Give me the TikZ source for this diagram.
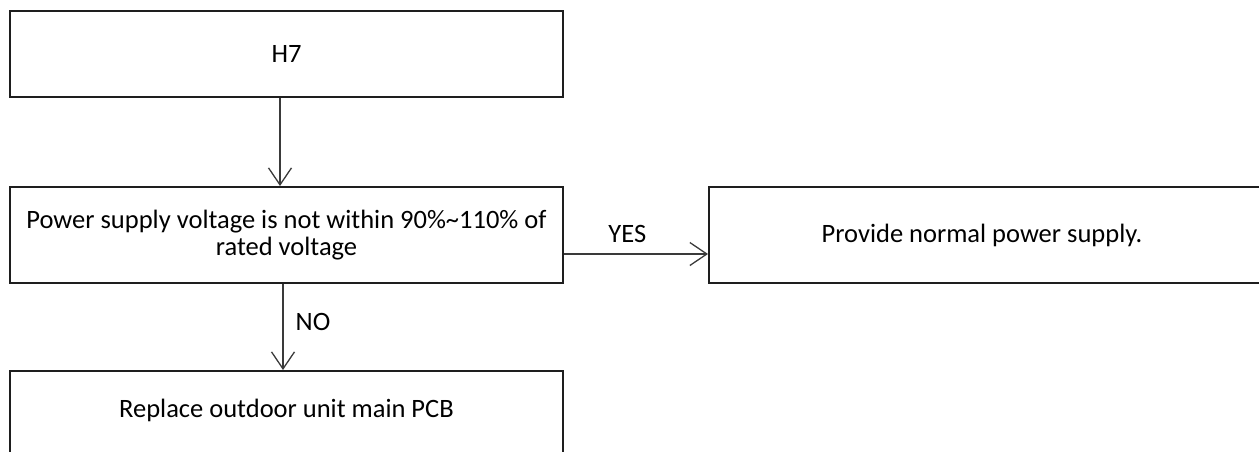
\documentclass[tikz,border=0pt]{standalone}
\usepackage{fontspec}
\setmainfont{Carlito}
\usepackage{xcolor}
\usepackage{tikz}
\usetikzlibrary{arrows.meta, positioning, calc}
\definecolor{boxline}{HTML}{1E1E1E}
\definecolor{arrline}{HTML}{3A3A3A}

\begin{document}
\begin{tikzpicture}[
    x=1pt, y=-1pt,
    box/.style={
        draw=boxline, line width=2pt,
        rectangle, inner sep=0pt, minimum width=553pt,
        font=\fontsize{26.5}{27}\selectfont
    },
    arr/.style={
        -{Straight Barb[length=17pt, width=23pt]}, line width=1.3pt, draw=arrline
    },
    lbl/.style={
        inner sep=0pt, font=\fontsize{26.5}{27}\selectfont
    }
]
\useasboundingbox (0,0) rectangle (1259,451);
\clip (0,0) rectangle (1259,451);

% H7
\node[box, minimum height=86pt] (h7) at (286.5,54) {H7};

% power supply check
\node[box, minimum height=96pt, align=center,
      below=88pt of h7.south west, anchor=north west] (check) {
    Power supply voltage is not within 90\%\textasciitilde110\% of\\
    rated voltage
};

% normal supply
\node[box, minimum width=568pt, minimum height=96pt,
      right=144pt of check.east, anchor=west] (supply) {
    \hspace*{-22pt}Provide normal power supply.
};

% replace PCB
\node[box, text height=46pt, text depth=70pt,
      below=86pt of check.south west, anchor=north west] (replace) {
    Replace outdoor unit main PCB
};

% Connectors
\draw[arr] ([xshift=-6.5pt]h7.south) -- ([xshift=-6.5pt]h7.south |- check.north);
\draw[arr] ([yshift=-19pt]check.east) -- node[lbl, pos=0.44, above=11pt] {YES}
    ([yshift=-19pt]check.east -| supply.west);
\draw[arr] ([xshift=-3.5pt]check.south) -- node[lbl, pos=0.44, right=12pt] {NO}
    ([xshift=-3.5pt]check.south |- replace.north);

\end{tikzpicture}
\end{document}
